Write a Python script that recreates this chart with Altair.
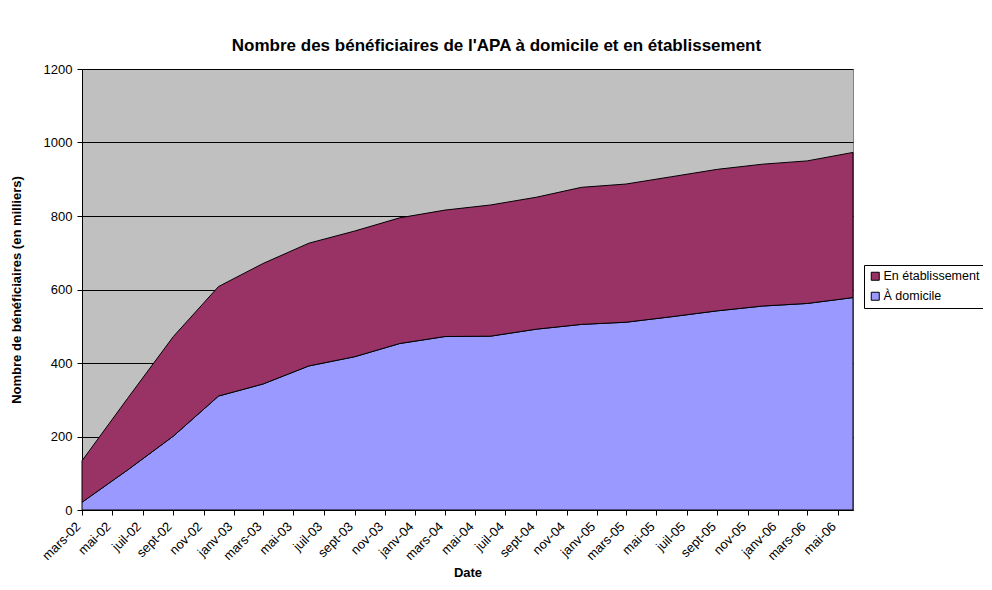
import altair as alt
import pandas as pd

dates = ["2002-03-01", "2002-06-01", "2002-09-01", "2002-12-01",
         "2003-03-01", "2003-06-01", "2003-09-01", "2003-12-01",
         "2004-03-01", "2004-06-01", "2004-09-01", "2004-12-01",
         "2005-03-01", "2005-06-01", "2005-09-01", "2005-12-01",
         "2006-03-01", "2006-06-01"]
domicile = [21, 109, 201, 310, 343, 392, 417, 453, 472, 473, 492, 505,
            511, 526, 542, 555, 562, 578]
etablissement = [113, 195, 271, 298, 328, 334, 342, 342, 344, 357, 359, 373,
                 376, 381, 385, 386, 388, 395]
series = ["En établissement", "À domicile"]
colors = ["#993366", "#9999FF"]

rows = []
for d, a, b in zip(dates, domicile, etablissement):
    rows.append({"date": d, "serie": "À domicile", "val": a, "ord": 0})
    rows.append({"date": d, "serie": "En établissement", "val": b, "ord": 1})
df = pd.DataFrame(rows)

tick_vals = [alt.DateTime(year=2002 + (m // 12), month=(m % 12) + 1, date=1, utc=True)
             for m in range(2, 53, 2)]

month_names = "['janv','févr','mars','avr','mai','juin','juil','août','sept','oct','nov','déc']"
label_expr = month_names + "[utcmonth(datum.value)] + '-' + utcFormat(datum.value, '%y')"

FONT = "Liberation Sans"

chart = alt.Chart(df).mark_area(stroke="black", strokeWidth=1, strokeJoin="miter").encode(
    x=alt.X("date:T",
            scale=alt.Scale(type="utc", domain=[alt.DateTime(year=2002, month=3, date=1, utc=True),
                                                 alt.DateTime(year=2006, month=6, date=1, utc=True)],
                            nice=False, padding=0),
            axis=alt.Axis(title="Date", values=tick_vals, labelExpr=label_expr,
                          labelAngle=-45, labelAlign="right", labelBaseline="middle",
                          labelFontSize=13, labelFont=FONT, labelColor="black",
                          titleFont=FONT, titleFontSize=13, titleFontWeight="bold",
                          titleColor="black", titlePadding=4, labelOffset=-4,
                          grid=False, domainColor="black", tickColor="black",
                          tickSize=5, labelPadding=9, labelOverlap=False, labelFlush=False)),
    y=alt.Y("val:Q", stack="zero",
            scale=alt.Scale(domain=[0, 1200], nice=False),
            axis=alt.Axis(title="Nombre de bénéficiaires (en milliers)",
                          values=list(range(0, 1201, 200)), format="d",
                          labelFontSize=13, labelFont=FONT, labelColor="black",
                          titleFont=FONT, titleFontSize=13, titleFontWeight="bold",
                          titleColor="black", titlePadding=20,
                          grid=True, gridColor="black", gridWidth=1,
                          domainColor="black", tickColor="black", tickSize=5,
                          labelPadding=5)),
    color=alt.Color("serie:N",
                    scale=alt.Scale(domain=series, range=colors),
                    legend=alt.Legend(title=None, orient="none", legendX=782, legendY=196,
                                      symbolType="square", symbolSize=64,
                                      symbolStrokeColor="black", symbolStrokeWidth=1,
                                      labelFont=FONT, labelFontSize=12.5, labelColor="black",
                                      strokeColor="black", fillColor="white",
                                      padding=5, rowPadding=7, labelOffset=2, labelLimit=200)),
    order=alt.Order("ord:Q"),
).properties(
    width=771,
    height=441,
    title=alt.TitleParams("Nombre des bénéficiaires de l'APA à domicile et en établissement",
                          font=FONT, fontSize=17, fontWeight="bold", color="black",
                          anchor="middle", offset=8, frame="group", dx=29),
    autosize=alt.AutoSizeParams(type="none"),
    padding={"left": 74, "top": 61, "right": 130, "bottom": 72},
    background="white",
).configure_view(
    fill="#C0C0C0", stroke="#808080", strokeWidth=1
)

chart.save("out.html", embed_options={"renderer": "svg", "actions": False})
